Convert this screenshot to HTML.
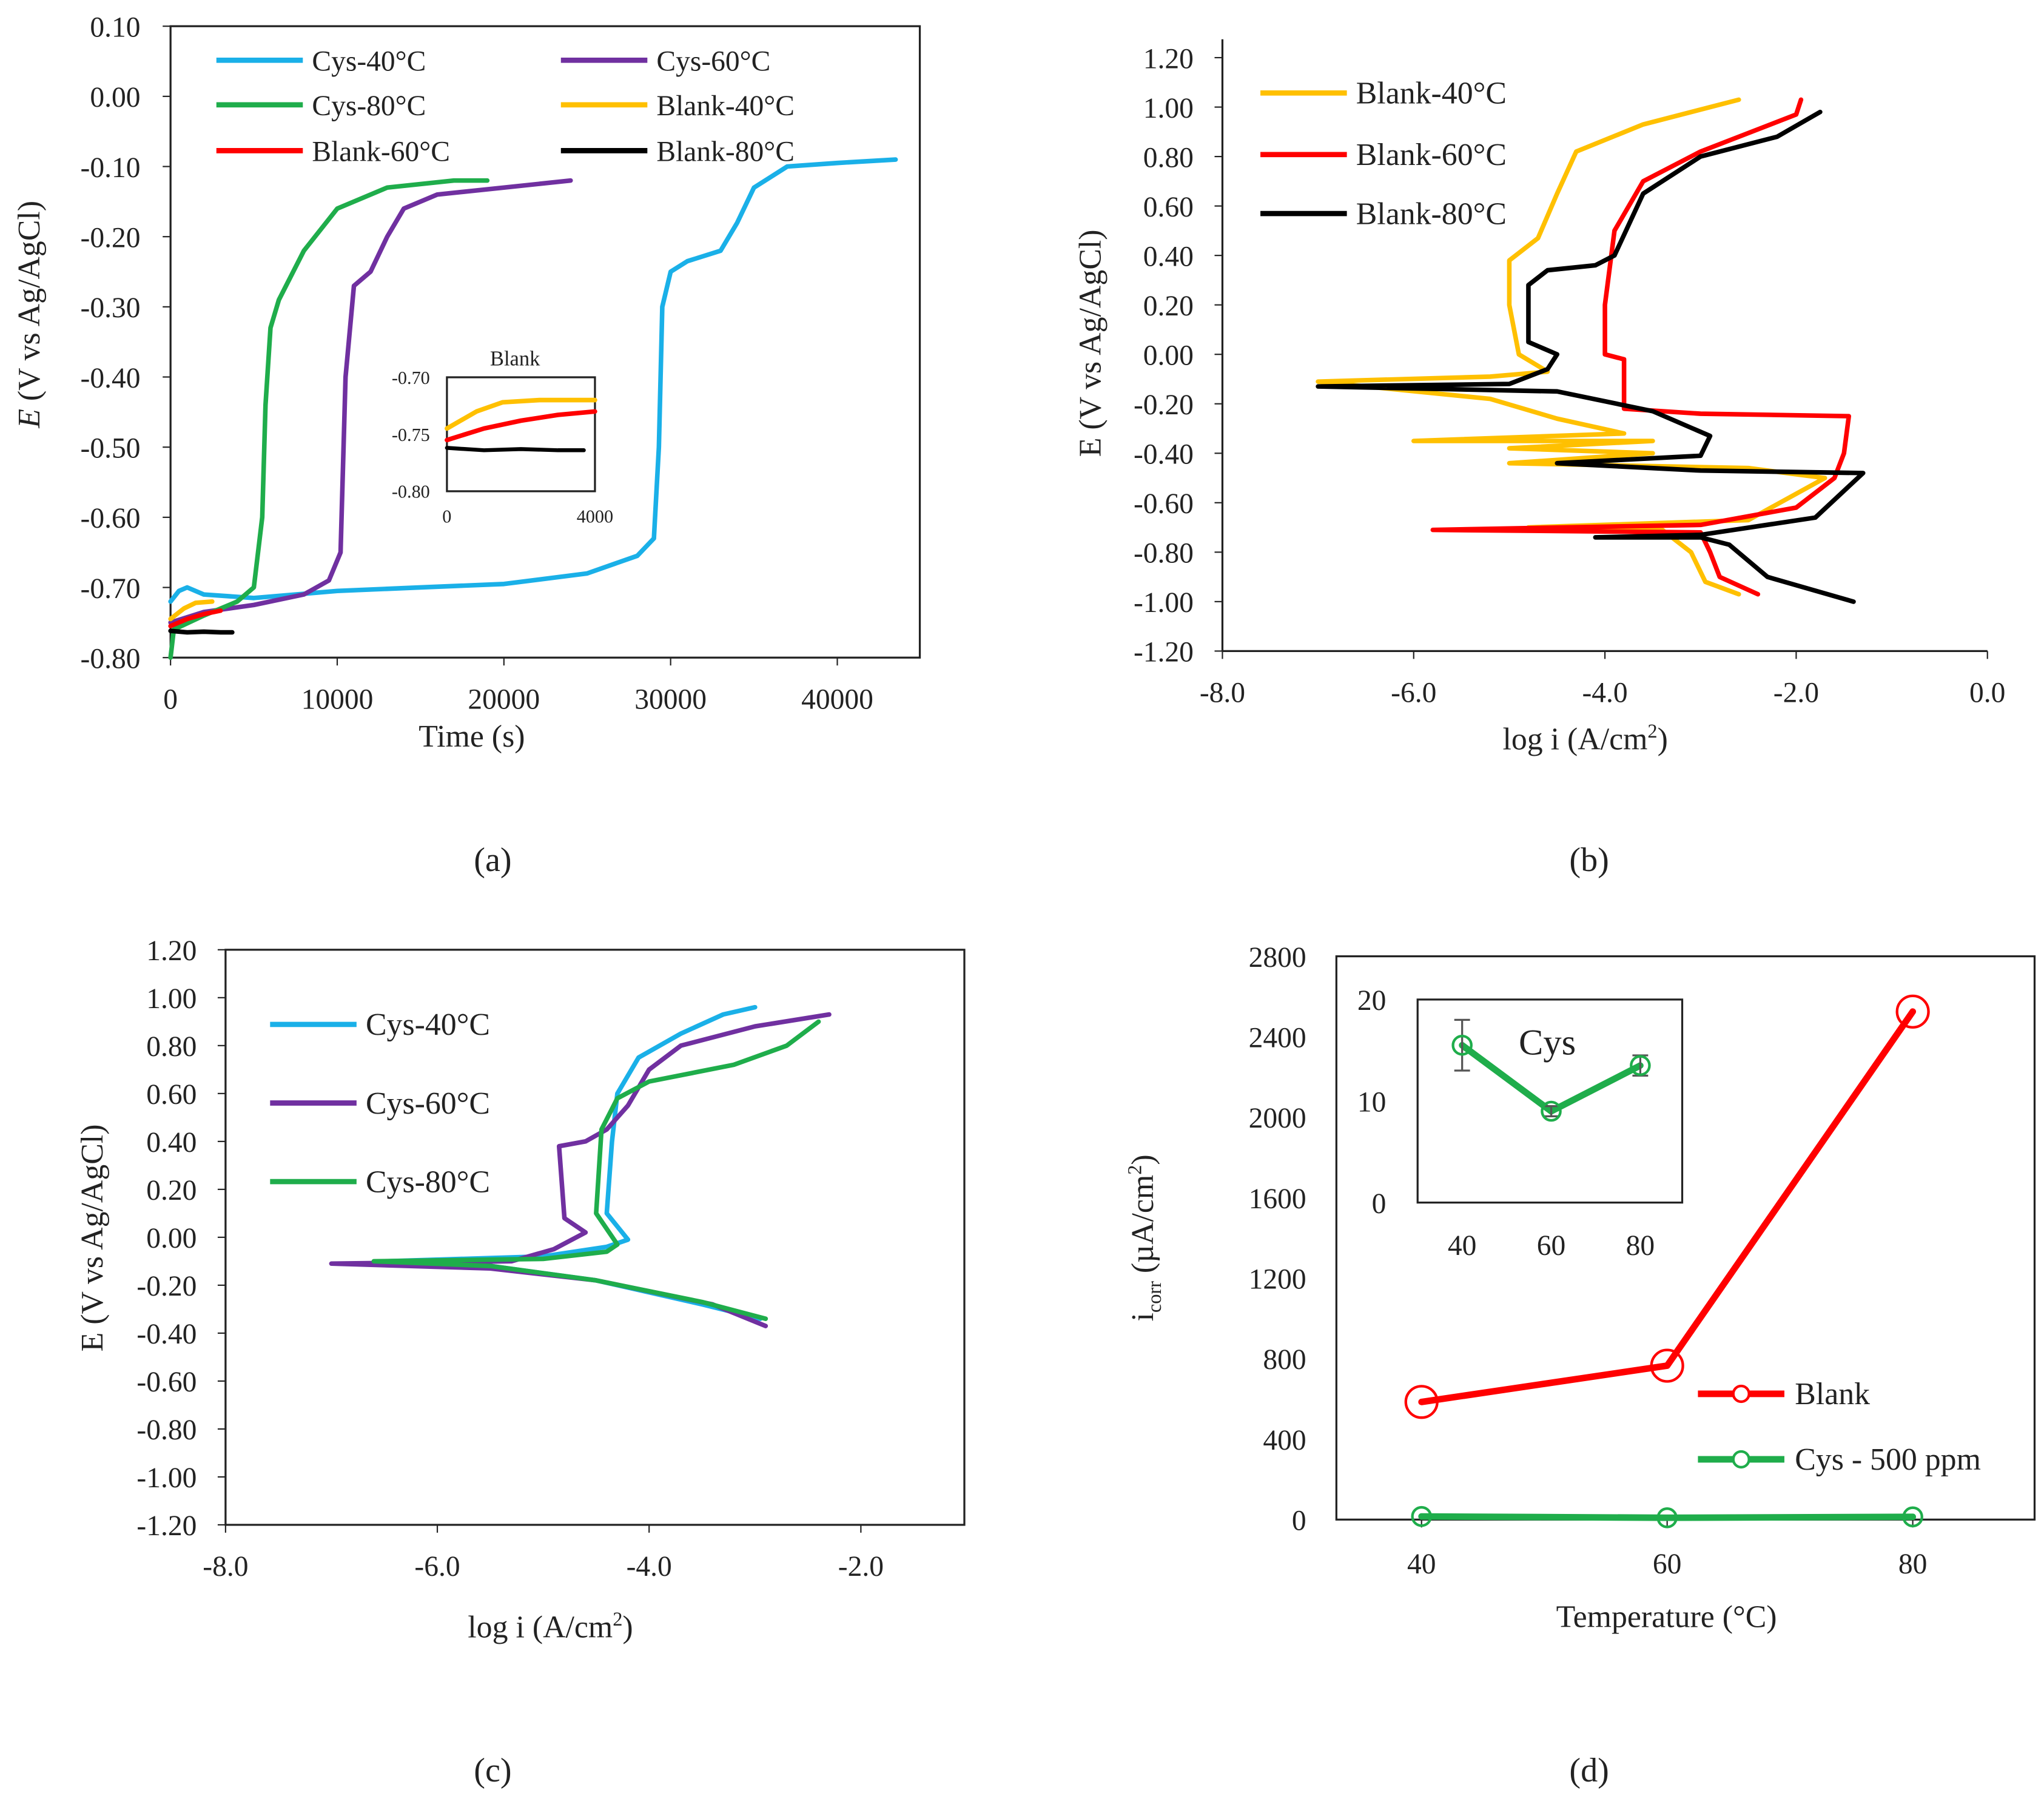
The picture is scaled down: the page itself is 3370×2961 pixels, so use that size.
<!DOCTYPE html>
<html><head><meta charset="utf-8"><style>
html,body{margin:0;padding:0;background:#fff}
svg{display:block}
text{font-family:"Liberation Serif",serif;fill:#222}
</style></head><body>
<svg id="s" width="3370" height="2961" viewBox="0 0 1560 1371" xmlns="http://www.w3.org/2000/svg"></svg>
<script>
// ---------- Data ----------
const aXTicks=[0,10000,20000,30000,40000];
const aYTicks=[0.10,0.00,-0.10,-0.20,-0.30,-0.40,-0.50,-0.60,-0.70,-0.80];
const aCys40=[[0,-0.72],[500,-0.705],[1000,-0.70],[2000,-0.71],[5000,-0.715],[10000,-0.705],[15000,-0.70],[20000,-0.695],[25000,-0.68],[28000,-0.655],[29000,-0.63],[29300,-0.50],[29500,-0.30],[30000,-0.25],[31000,-0.235],[33000,-0.22],[34000,-0.18],[35000,-0.13],[37000,-0.10],[40000,-0.095],[43500,-0.09]];
const aCys60=[[0,-0.75],[2000,-0.735],[5000,-0.725],[8000,-0.71],[9500,-0.69],[10200,-0.65],[10500,-0.40],[11000,-0.27],[12000,-0.25],[13000,-0.20],[14000,-0.16],[16000,-0.14],[20000,-0.13],[24000,-0.12]];
const aCys80=[[0,-0.80],[200,-0.76],[2000,-0.74],[4000,-0.72],[5000,-0.70],[5500,-0.60],[5700,-0.44],[6000,-0.33],[6500,-0.29],[8000,-0.22],[10000,-0.16],[13000,-0.13],[17000,-0.12],[19000,-0.12]];
const aBl40=[[0,-0.745],[800,-0.73],[1500,-0.722],[2500,-0.72],[4000,-0.72]];
const aBl60=[[0,-0.755],[1000,-0.745],[2000,-0.738],[3000,-0.733],[4000,-0.73]];
const aBl80=[[0,-0.762],[1000,-0.764],[2000,-0.763],[3000,-0.764],[3700,-0.764]];
const insXTicks=[0,4000];
const insYTicks=[-0.70,-0.75,-0.80];

const bXTicks=[-8,-6,-4,-2,0];
const bYTicks=[1.2,1.0,0.8,0.6,0.4,0.2,0,-0.2,-0.4,-0.6,-0.8,-1.0,-1.2];
const bBl40=[[-2.6,-0.97],[-2.95,-0.92],[-3.1,-0.80],[-3.4,-0.71],[-4.8,-0.70],[-2.5,-0.67],[-1.7,-0.50],[-2.5,-0.46],[-5.0,-0.44],[-3.5,-0.40],[-5.0,-0.38],[-3.5,-0.35],[-6.0,-0.35],[-3.8,-0.32],[-4.5,-0.26],[-5.2,-0.18],[-7.0,-0.11],[-5.2,-0.09],[-4.6,-0.07],[-4.9,0.0],[-5.0,0.2],[-5.0,0.38],[-4.7,0.47],[-4.5,0.65],[-4.3,0.82],[-3.6,0.93],[-2.6,1.03]];
const bBl60=[[-2.4,-0.97],[-2.8,-0.9],[-2.9,-0.80],[-3.0,-0.72],[-5.8,-0.71],[-3.0,-0.69],[-2.0,-0.62],[-1.6,-0.50],[-1.5,-0.40],[-1.45,-0.25],[-3.0,-0.24],[-3.8,-0.22],[-3.8,-0.10],[-3.8,-0.02],[-4.0,0.0],[-4.0,0.2],[-3.9,0.5],[-3.6,0.7],[-3.0,0.82],[-2.0,0.97],[-1.95,1.03]];
const bBl80=[[-1.4,-1.0],[-2.3,-0.9],[-2.7,-0.77],[-3.0,-0.74],[-4.1,-0.74],[-3.0,-0.73],[-1.8,-0.66],[-1.3,-0.48],[-3.0,-0.47],[-4.5,-0.44],[-3.0,-0.41],[-2.9,-0.33],[-3.5,-0.23],[-4.5,-0.15],[-7.0,-0.13],[-5.0,-0.12],[-4.6,-0.06],[-4.5,0.0],[-4.8,0.05],[-4.8,0.28],[-4.6,0.34],[-4.1,0.36],[-3.9,0.4],[-3.6,0.65],[-3.0,0.8],[-2.2,0.88],[-1.75,0.98]];

const cXTicks=[-8,-6,-4,-2];
const cYTicks=bYTicks;
const cCys40=[[-2.95,-0.34],[-3.5,-0.28],[-4.5,-0.18],[-5.5,-0.12],[-6.5,-0.10],[-5.0,-0.08],[-4.4,-0.04],[-4.2,-0.01],[-4.4,0.1],[-4.35,0.4],[-4.3,0.6],[-4.1,0.75],[-3.7,0.85],[-3.3,0.93],[-3.0,0.96]];
const cCys60=[[-2.9,-0.37],[-3.4,-0.28],[-4.5,-0.18],[-5.5,-0.13],[-7.0,-0.11],[-5.3,-0.10],[-4.9,-0.05],[-4.6,0.02],[-4.8,0.08],[-4.85,0.38],[-4.6,0.40],[-4.4,0.45],[-4.2,0.55],[-4.0,0.70],[-3.7,0.80],[-3.0,0.88],[-2.3,0.93]];
const cCys80=[[-2.9,-0.34],[-3.5,-0.27],[-4.5,-0.18],[-5.5,-0.12],[-6.6,-0.10],[-5.0,-0.09],[-4.4,-0.06],[-4.3,-0.03],[-4.5,0.1],[-4.45,0.45],[-4.3,0.58],[-4.0,0.65],[-3.2,0.72],[-2.7,0.80],[-2.4,0.90]];

const dTemps=[40,60,80];
const dBlank=[585,765,2525];
const dCys=[15.5,9,13.5];
const dCysErr=[2.5,0.5,1];
const dYTicks=[0,400,800,1200,1600,2000,2400,2800];
const dInsYTicks=[0,10,20];

// ---------- helpers ----------
const S=document.getElementById('s');
const NS='http://www.w3.org/2000/svg';
function el(tag,attrs,parent){const e=document.createElementNS(NS,tag);for(const k in attrs)e.setAttribute(k,attrs[k]);(parent||S).appendChild(e);return e;}
function txt(x,y,s,size,anchor,parent,extra){const t=el('text',Object.assign({x:x,y:y,'font-size':size,'text-anchor':anchor||'middle'},extra||{}),parent);t.textContent=s;return t;}
function lin(d0,d1,p0,p1){return v=>p0+(v-d0)/(d1-d0)*(p1-p0);}
function series(pts,X,Y,color,w,name,parent){
  const d=pts.map((p,i)=>(i?'L':'M')+X(p[0]).toFixed(1)+' '+Y(p[1]).toFixed(1)).join(' ');
  const e=el('path',{d:d,fill:'none',stroke:color,'stroke-width':w,'stroke-linejoin':'round','stroke-linecap':'round'},parent);
  
  
  return e;
}
function legend(x,y,label,color,name,size){
  const g=el('g',{});
  
  
  el('line',{x1:x,y1:y,x2:x+66,y2:y,stroke:color,'stroke-width':4},g);
  txt(x+73,y+8,label,size||22,'start',g);
}
const BLUE='#1ab0e8',PURP='#7030a0',GREEN='#1fad4b',YEL='#ffc000',RED='#ff0000',BLK='#000';

// ---------- Panel a ----------
{
const g=el('g',{});
const X=lin(0,40000,130,639),Y=lin(0.10,-0.80,20,502);
el('rect',{x:130,y:20,width:572,height:482,fill:'none',stroke:'#222','stroke-width':1.5},g);
aYTicks.forEach(v=>{el('line',{x1:124,x2:130,y1:Y(v),y2:Y(v),stroke:'#222'},g);txt(107,Y(v)+8,v.toFixed(2),22,'end',g);});
aXTicks.forEach(v=>{el('line',{x1:X(v),x2:X(v),y1:502,y2:508,stroke:'#222'},g);txt(X(v),541,String(v),22,'middle',g);});
series(aCys40,X,Y,BLUE,3.5,'series-cys-40',g);
series(aCys60,X,Y,PURP,3.5,'series-cys-60',g);
series(aCys80,X,Y,GREEN,3.5,'series-cys-80',g);
series(aBl40.filter(p=>p[0]<=3700),X,Y,YEL,3.5,'series-blank-40',g);
series(aBl60.filter(p=>p[0]<=3700),X,Y,RED,3.5,'series-blank-60',g);
series(aBl80,X,Y,BLK,3.5,'series-blank-80',g);
const yt=txt(0,0,'',24,'middle',g,{transform:'translate(30,240) rotate(-90)'});
yt.innerHTML='<tspan font-style="italic">E</tspan> (V vs Ag/AgCl)';

txt(360,570,'Time (s)',24,'middle',g);
legend(165,46,'Cys-40°C',BLUE,'legend-cys-40');
legend(428,46,'Cys-60°C',PURP,'legend-cys-60');
legend(165,80,'Cys-80°C',GREEN,'legend-cys-80');
legend(428,80,'Blank-40°C',YEL,'legend-blank-40');
legend(165,115,'Blank-60°C',RED,'legend-blank-60');
legend(428,115,'Blank-80°C',BLK,'legend-blank-80');
// inset
const ig=el('g',{},g);
const IX=lin(0,4000,341,454),IY=lin(-0.70,-0.80,288,375);
el('rect',{x:341,y:288,width:113,height:87,fill:'#fff',stroke:'#222','stroke-width':1.5},ig);
insYTicks.forEach(v=>txt(328,IY(v)+5,v.toFixed(2),14,'end',ig));
insXTicks.forEach(v=>txt(IX(v),399,String(v),14,'middle',ig));
txt(393,279,'Blank',16,'middle',ig);
series(aBl40,IX,IY,YEL,3.5,'inset-blank-40',ig);
series(aBl60,IX,IY,RED,3.5,'inset-blank-60',ig);
series(aBl80,IX,IY,BLK,3,'inset-blank-80',ig);
txt(376,665,'(a)',26,'middle',g);
}
// ---------- Panel b ----------
{
const g=el('g',{});
const X=lin(-8,0,933,1517),Y=lin(1.2,-1.2,44,497);
el('line',{x1:933,y1:30,x2:933,y2:497,stroke:'#222','stroke-width':1.5},g);
el('line',{x1:933,y1:497,x2:1517,y2:497,stroke:'#222','stroke-width':1.5},g);
bYTicks.forEach(v=>{el('line',{x1:927,x2:933,y1:Y(v),y2:Y(v),stroke:'#222'},g);txt(911,Y(v)+8,v.toFixed(2),22,'end',g);});
bXTicks.forEach(v=>{el('line',{x1:X(v),x2:X(v),y1:497,y2:503,stroke:'#222'},g);txt(X(v),536,v.toFixed(1),22,'middle',g);});
series(bBl40,X,Y,YEL,3.5,'series-blank-40',g);
series(bBl60,X,Y,RED,3.5,'series-blank-60',g);
series(bBl80,X,Y,BLK,3.5,'series-blank-80',g);
txt(0,0,'E (V vs Ag/AgCl)',24,'middle',g,{transform:'translate(840,262) rotate(-90)'});
const xt=txt(1210,572,'',24,'middle',g);xt.innerHTML='log i (A/cm<tspan font-size="15" dy="-9">2</tspan><tspan dy="9">)</tspan>';
legend(962,71,'Blank-40°C',YEL,'legend-blank-40',24);
legend(962,118,'Blank-60°C',RED,'legend-blank-60',24);
legend(962,163,'Blank-80°C',BLK,'legend-blank-80',24);
txt(1213,665,'(b)',26,'middle',g);
}
// ---------- Panel c ----------
{
const g=el('g',{});
const X=lin(-8,-2,172,657),Y=lin(1.2,-1.2,725,1164);
el('rect',{x:172,y:725,width:564,height:439,fill:'none',stroke:'#222','stroke-width':1.5},g);
cYTicks.forEach(v=>{el('line',{x1:166,x2:172,y1:Y(v),y2:Y(v),stroke:'#222'},g);txt(150,Y(v)+8,v.toFixed(2),22,'end',g);});
cXTicks.forEach(v=>{el('line',{x1:X(v),x2:X(v),y1:1164,y2:1170,stroke:'#222'},g);txt(X(v),1203,v.toFixed(1),22,'middle',g);});
series(cCys40,X,Y,BLUE,3.5,'series-cys-40',g);
series(cCys60,X,Y,PURP,3.5,'series-cys-60',g);
series(cCys80,X,Y,GREEN,3.5,'series-cys-80',g);
txt(0,0,'E (V vs Ag/AgCl)',24,'middle',g,{transform:'translate(78,945) rotate(-90)'});
const xt=txt(420,1250,'',24,'middle',g);xt.innerHTML='log i (A/cm<tspan font-size="15" dy="-9">2</tspan><tspan dy="9">)</tspan>';
legend(206,782,'Cys-40°C',BLUE,'legend-cys-40',24);
legend(206,842,'Cys-60°C',PURP,'legend-cys-60',24);
legend(206,902,'Cys-80°C',GREEN,'legend-cys-80',24);
txt(376,1360,'(c)',26,'middle',g);
}
// ---------- Panel d ----------
{
const g=el('g',{});
const X=lin(40,80,1085,1460),Y=lin(0,2800,1160,730);
el('rect',{x:1020,y:730,width:533,height:430,fill:'none',stroke:'#222','stroke-width':1.5},g);
dYTicks.forEach(v=>txt(997,Y(v)+8,String(v),22,'end',g));
dTemps.forEach(v=>{el('line',{x1:X(v),x2:X(v),y1:1160,y2:1166,stroke:'#222'},g);txt(X(v),1201,String(v),22,'middle',g);});
series(dTemps.map((t,i)=>[t,dBlank[i]]),X,Y,RED,5,'series-blank',g);
series(dTemps.map((t,i)=>[t,dCys[i]]),X,Y,GREEN,5,'series-cys-500',g);
dTemps.forEach((t,i)=>{const c=el('circle',{cx:X(t),cy:Y(dBlank[i]),r:12,fill:'none',stroke:RED,'stroke-width':2},g);
 const c2=el('circle',{cx:X(t),cy:Y(dCys[i]),r:7,fill:'none',stroke:GREEN,'stroke-width':2},g);});
const yt=txt(0,0,'',24,'middle',g,{transform:'translate(880,945) rotate(-90)'});
yt.innerHTML='i<tspan font-size="15" dy="6">corr</tspan><tspan dy="-6"> (µA/cm</tspan><tspan font-size="15" dy="-9">2</tspan><tspan dy="9">)</tspan>';

txt(1272,1242,'Temperature (°C)',24,'middle',g);
// legend
[['Blank',RED,1064,'legend-blank'],['Cys - 500 ppm',GREEN,1114,'legend-cys-500']].forEach(L=>{
 const lg=el('g',{},g);
 el('line',{x1:1296,y1:L[2],x2:1362,y2:L[2],stroke:L[1],'stroke-width':5},lg);
 el('circle',{cx:1329,cy:L[2],r:6,fill:'#fff',stroke:L[1],'stroke-width':2},lg);
 txt(1370,L[2]+8,L[0],24,'start',lg);});
// inset
const ig=el('g',{},g);
const IX=lin(40,80,1116,1252),IY=lin(0,20,918,763);
el('rect',{x:1082,y:763,width:202,height:155,fill:'#fff',stroke:'#222','stroke-width':1.5},ig);
dInsYTicks.forEach(v=>txt(1058,IY(v)+8,String(v),22,'end',ig));
dTemps.forEach(v=>txt(IX(v),958,String(v),22,'middle',ig));
txt(1181,805,'Cys',28,'middle',ig);
series(dTemps.map((t,i)=>[t,dCys[i]]),IX,IY,GREEN,5,'inset-series-cys',ig);
dTemps.forEach((t,i)=>{
 const eb=el('path',{d:`M${IX(t)-6} ${IY(dCys[i]+dCysErr[i])}H${IX(t)+6}M${IX(t)} ${IY(dCys[i]+dCysErr[i])}V${IY(dCys[i]-dCysErr[i])}M${IX(t)-6} ${IY(dCys[i]-dCysErr[i])}H${IX(t)+6}`,stroke:'#555','stroke-width':1.5,fill:'none'},ig);
 
 const c=el('circle',{cx:IX(t),cy:IY(dCys[i]),r:7,fill:'none',stroke:GREEN,'stroke-width':2},ig);
 });
txt(1213,1360,'(d)',26,'middle',g);
}
</script>
</body></html>
